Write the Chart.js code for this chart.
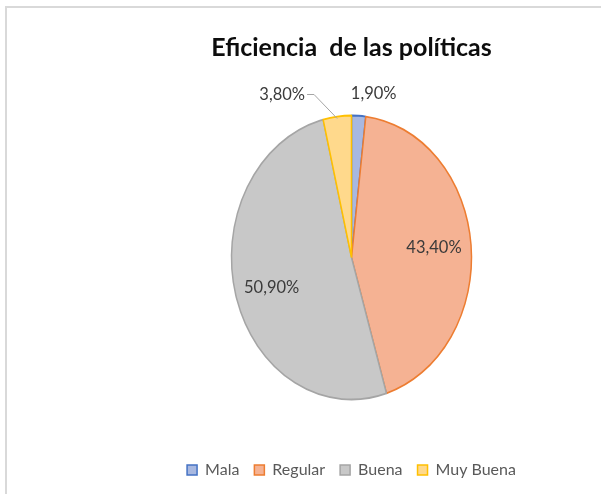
<!DOCTYPE html>
<html lang="es">
<head>
    <meta charset="UTF-8">
    <title>Eficiencia de las políticas</title>
    <script src="https://cdn.jsdelivr.net/npm/chart.js"></script>
    <style>
        body {
            margin: 0;
            background: #ffffff;
        }
        .frame {
            position: absolute;
            left: 5px;
            top: 6px;
            width: 596px;
            height: 488px;
            border-left: 2px solid #d9d9d9;
            border-top: 2px solid #d9d9d9;
            box-sizing: border-box;
        }
        canvas {
            position: absolute;
            left: 0;
            top: 0;
        }
    </style>
</head>
<body>
    <div class="frame"></div>
    <canvas id="pieChart" width="601" height="494"></canvas>

    <script>
        // data
        var categorias = ['Mala', 'Regular', 'Buena', 'Muy Buena'];
        var porcentajes = [1.9, 43.4, 50.9, 3.8];
        var etiquetas = ['1,90%', '43,40%', '50,90%', '3,80%'];

        var rellenos = ['#a8b8e0', '#f5b293', '#c8c8c8', '#ffd98c'];
        var bordes = ['#4472c4', '#ed7d31', '#a5a5a5', '#ffc000'];

        // the pie in the picture is taller than wide
        var stretchY = 142 / 120;

        var ellipsePlugin = {
            id: 'ellipse',
            beforeDatasetsDraw: function (chart) {
                var arc = chart.getDatasetMeta(0).data[0];
                var ctx = chart.ctx;
                ctx.save();
                ctx.translate(arc.x, arc.y);
                ctx.scale(1, stretchY);
                ctx.translate(-arc.x, -arc.y);
            },
            afterDatasetsDraw: function (chart) {
                chart.ctx.restore();
            }
        };

        // percentage labels: big slices inside, small ones above the pie
        var labelPlugin = {
            id: 'sliceLabels',
            afterDatasetsDraw: function (chart) {
                var ctx = chart.ctx;
                var arcs = chart.getDatasetMeta(0).data;
                ctx.save();
                ctx.font = '16.5px Lato';
                ctx.fillStyle = '#3a3a3a';
                ctx.textBaseline = 'middle';
                ctx.textAlign = 'center';
                arcs.forEach(function (arc, i) {
                    var mid = (arc.startAngle + arc.endAngle) / 2;
                    var r = arc.outerRadius;
                    var cosA = Math.cos(mid), sinA = Math.sin(mid);
                    if (porcentajes[i] > 10) {
                        ctx.fillText(etiquetas[i], arc.x + cosA * r * 0.69, arc.y + sinA * r * stretchY * 0.8);
                        return;
                    }
                    var ex = arc.x + cosA * r;
                    var ey = arc.y + sinA * r * stretchY;
                    if (cosA >= 0) {
                        ctx.fillText(etiquetas[i], ex + 15, ey - 22);
                    } else {
                        var lx = ex - 55, ly = ey - 22;
                        ctx.fillText(etiquetas[i], lx, ly);
                        var w = ctx.measureText(etiquetas[i]).width;
                        ctx.strokeStyle = '#a5a5a5';
                        ctx.lineWidth = 1;
                        ctx.beginPath();
                        ctx.moveTo(lx + w / 2 + 2, ly);
                        ctx.lineTo(lx + w / 2 + 9, ly);
                        ctx.lineTo(ex, ey + 2);
                        ctx.stroke();
                    }
                });
                ctx.restore();
            }
        };

        var ctx = document.getElementById('pieChart').getContext('2d');
        var pieChart = new Chart(ctx, {
            type: 'pie',
            data: {
                labels: categorias,
                datasets: [{
                    data: porcentajes,
                    backgroundColor: rellenos,
                    borderColor: bordes,
                    borderWidth: 1.5,
                    radius: 120
                }]
            },
            options: {
                responsive: false,
                animation: false,
                layout: {
                    padding: { left: 102, right: 0, top: 9, bottom: 6 }
                },
                plugins: {
                    title: {
                        display: true,
                        text: 'Eficiencia  de las políticas',
                        color: '#0d0d0d',
                        font: { family: 'Lato', size: 25, weight: 'bold' },
                        padding: { top: 24, bottom: 5 }
                    },
                    legend: {
                        position: 'bottom',
                        labels: {
                            color: '#595959',
                            font: { family: 'Lato', size: 16 },
                            boxWidth: 10,
                            boxHeight: 10,
                            padding: 15
                        }
                    },
                    tooltip: { enabled: false }
                }
            },
            plugins: [ellipsePlugin, labelPlugin]
        });
    </script>
</body>
</html>
